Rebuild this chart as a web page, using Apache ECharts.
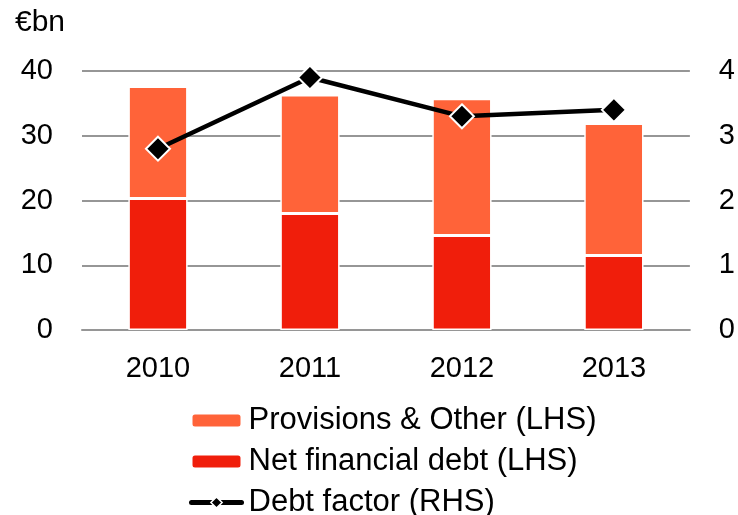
<!DOCTYPE html>
<html>
<head>
<meta charset="utf-8">
<script src="https://cdn.jsdelivr.net/npm/echarts@6/dist/echarts.min.js"></script>
<style>
  html, body { margin: 0; padding: 0; background: #fff; }
  #chart { width: 738px; height: 515px; }
</style>
</head>
<body>
<div id="chart"></div>
<script>
// Debt composition (€bn, left axis) and debt factor (right axis)
const years = ['2010', '2011', '2012', '2013'];
const netFinancialDebt = [20.3, 18.0, 14.6, 11.5];
const provisionsOther = [17.3, 18.3, 21.1, 20.4];
const debtFactor = [2.8, 3.9, 3.3, 3.4];
const leftTicks = { min: 0, max: 40, step: 10 };
const rightTicks = { min: 0, max: 4, step: 1 };

const FONT = "'Liberation Sans', Arial, sans-serif";
const GRID_GREY = '#969696';

const chart = echarts.init(document.getElementById('chart'), null, { renderer: 'canvas' });

chart.setOption({
  animation: false,
  backgroundColor: '#ffffff',
  textStyle: { fontFamily: FONT, color: '#000' },
  graphic: [{
    type: 'text',
    left: 15,
    top: 8,
    style: { text: '€bn', font: '30px ' + FONT, fill: '#000' }
  }],
  grid: { left: 82, right: 48, top: 71, bottom: 185, containLabel: false },
  legend: {
    orient: 'vertical',
    left: 189,
    top: 404,
    height: 150,
    padding: 0,
    itemWidth: 50,
    itemHeight: 14,
    itemGap: 8,
    data: [
      { name: 'Provisions & Other (LHS)' },
      { name: 'Net financial debt (LHS)' },
      {
        name: 'Debt factor (RHS)',
        lineStyle: { width: 5, cap: 'round', color: '#000' },
        itemStyle: { color: '#000', borderColor: '#fff', borderWidth: 1.5 }
      }
    ],
    textStyle: { fontFamily: FONT, fontSize: 31, color: '#000', lineHeight: 33, padding: [0, 0, 0, 2] }
  },
  xAxis: {
    type: 'category',
    data: years,
    axisTick: { show: false },
    axisLine: { lineStyle: { color: GRID_GREY, width: 2 } },
    axisLabel: { fontFamily: FONT, fontSize: 29, color: '#000', margin: 24 }
  },
  yAxis: [{
    type: 'value',
    min: leftTicks.min,
    max: leftTicks.max,
    interval: leftTicks.step,
    axisLine: { show: false },
    axisTick: { show: false },
    axisLabel: { fontFamily: FONT, fontSize: 29, color: '#000', margin: 29 },
    splitLine: { lineStyle: { color: GRID_GREY, width: 2 } }
  }, {
    type: 'value',
    min: rightTicks.min,
    max: rightTicks.max,
    interval: rightTicks.step,
    axisLine: { show: false },
    axisTick: { show: false },
    axisLabel: { fontFamily: FONT, fontSize: 29, color: '#000', margin: 29 },
    splitLine: { show: false }
  }],
  series: [{
    name: 'Net financial debt (LHS)',
    type: 'bar',
    stack: 'debt',
    barWidth: '39%',
    data: netFinancialDebt,
    itemStyle: { color: '#F01E0B', borderColor: '#ffffff', borderWidth: 1.5 }
  }, {
    name: 'Provisions & Other (LHS)',
    type: 'bar',
    stack: 'debt',
    barWidth: '39%',
    data: provisionsOther,
    itemStyle: { color: '#FF6339', borderColor: '#ffffff', borderWidth: 1.5 }
  }, {
    name: 'Debt factor (RHS)',
    type: 'line',
    yAxisIndex: 1,
    data: debtFactor,
    z: 5,
    symbol: 'diamond',
    symbolSize: 24,
    lineStyle: { color: '#000', width: 4.5 },
    itemStyle: { color: '#000', borderColor: '#ffffff', borderWidth: 2 }
  }]
});
</script>
</body>
</html>
